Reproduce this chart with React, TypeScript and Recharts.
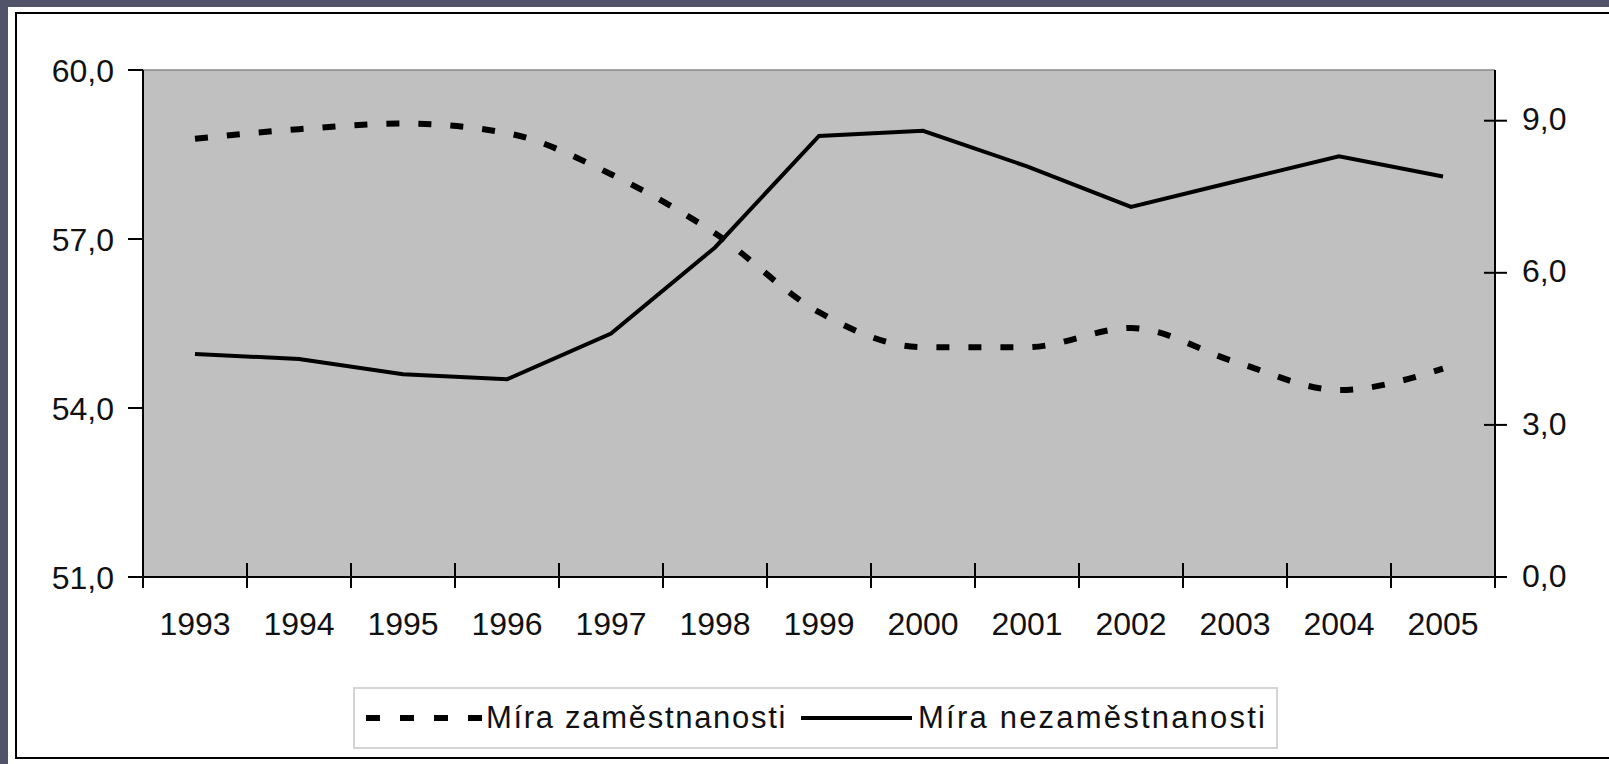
import React from 'react';
import { LineChart, Line, XAxis, YAxis, CartesianGrid, ReferenceLine } from 'recharts';

const years = ['1993', '1994', '1995', '1996', '1997', '1998', '1999', '2000', '2001', '2002', '2003', '2004', '2005'];
const employmentRate = [58.78, 58.95, 59.05, 58.88, 58.15, 57.1, 55.7, 55.08, 55.08, 55.42, 54.82, 54.32, 54.7];
const unemploymentRate = [4.4, 4.3, 4.0, 3.9, 4.8, 6.5, 8.7, 8.8, 8.1, 7.3, 7.8, 8.3, 7.9];
const leftTicks = [51, 54, 57, 60];
const rightTicks = [0, 3, 6, 9];
const seriesNames = ['Míra zaměstnanosti', 'Míra nezaměstnanosti'];

const data = years.map((y, i) => ({ year: y, emp: employmentRate[i], unemp: unemploymentRate[i] }));

const W = 1609;
const H = 764;
const PLOT_LEFT = 143;
const PLOT_RIGHT = 1495;
const PLOT_TOP = 70;
const BAND = (PLOT_RIGHT - PLOT_LEFT) / years.length;
const FONT = '"Liberation Sans", Arial, sans-serif';
const fmt = (v: number) => v.toFixed(1).replace('.', ',');

function XTick(props: any) {
  const { x, y, payload, index } = props;
  const isLast = index === years.length - 1;
  return (
    <g>
      <line x1={x - BAND / 2} x2={x - BAND / 2} y1={y - 14} y2={y + 11} stroke="#000" strokeWidth={2} />
      {isLast && <line x1={x + BAND / 2} x2={x + BAND / 2} y1={y - 14} y2={y + 11} stroke="#000" strokeWidth={2} />}
      <text x={x} y={y + 58} textAnchor="middle" fontSize={32} fill="#111" fontFamily={FONT}>
        {payload.value}
      </text>
    </g>
  );
}

function RightTick(props: any) {
  const { x, y, payload } = props;
  return (
    <g>
      <line x1={x - 11} x2={x + 12} y1={y} y2={y} stroke="#000" strokeWidth={2} />
      <text x={x + 27} y={y} dy="0.3em" textAnchor="start" fontSize={32} fill="#111" fontFamily={FONT}>
        {fmt(payload.value)}
      </text>
    </g>
  );
}

function LeftTick(props: any) {
  const { x, y, payload } = props;
  return (
    <text x={x} y={y} dy="0.36em" textAnchor="end" fontSize={32} fill="#111" fontFamily={FONT}>
      {fmt(payload.value)}
    </text>
  );
}

export default function App() {
  return (
    <div style={{ position: 'relative', width: W, height: H, background: '#515468', overflow: 'hidden' }}>
      <style>{`body{margin:0}`}</style>
      <div style={{ position: 'absolute', left: 8, top: 7, width: W - 8, height: H - 7, background: '#fff' }} />
      <div
        style={{
          position: 'absolute',
          left: 15,
          top: 12,
          width: W,
          height: 747,
          border: '2px solid #000',
          borderRight: 'none',
          boxSizing: 'border-box',
        }}
      />
      <div style={{ position: 'absolute', left: 0, top: 0 }}>
        <LineChart width={W} height={H} data={data} margin={{ top: PLOT_TOP, right: 0, left: 0, bottom: 127 }}>
          <CartesianGrid fill="#c0c0c0" horizontal={false} vertical={false} />
          <ReferenceLine yAxisId="left" y={60} stroke="#888" strokeWidth={1.5} />
          <XAxis
            dataKey="year"
            height={60}
            interval={0}
            padding={{ left: BAND / 2, right: BAND / 2 }}
            tickLine={false}
            tickSize={0}
            tickMargin={0}
            axisLine={{ stroke: '#000', strokeWidth: 2 }}
            tick={<XTick />}
          />
          <YAxis
            yAxisId="left"
            orientation="left"
            width={PLOT_LEFT}
            domain={[51, 60]}
            ticks={leftTicks}
            interval={0}
            tickSize={15}
            tickMargin={14}
            tickLine={{ stroke: '#000', strokeWidth: 2 }}
            axisLine={{ stroke: '#000', strokeWidth: 2 }}
            tick={<LeftTick />}
          />
          <YAxis
            yAxisId="right"
            orientation="right"
            width={W - PLOT_RIGHT}
            domain={[0, 10]}
            ticks={rightTicks}
            interval={0}
            tickSize={0}
            tickMargin={0}
            tickLine={false}
            axisLine={{ stroke: '#000', strokeWidth: 2 }}
            tick={<RightTick />}
          />
          <Line
            yAxisId="left"
            dataKey="emp"
            name={seriesNames[0]}
            type="monotone"
            stroke="#000"
            strokeWidth={6}
            strokeDasharray="13 19"
            dot={false}
            activeDot={false}
            isAnimationActive={false}
          />
          <Line
            yAxisId="right"
            dataKey="unemp"
            name={seriesNames[1]}
            type="linear"
            stroke="#000"
            strokeWidth={4}
            dot={false}
            activeDot={false}
            isAnimationActive={false}
          />
        </LineChart>
      </div>
      <div
        style={{
          position: 'absolute',
          left: 353,
          top: 687,
          width: 925,
          height: 62,
          border: '2px solid #d4d4d4',
          boxSizing: 'border-box',
          display: 'flex',
          alignItems: 'center',
          fontFamily: FONT,
          fontSize: 31,
          color: '#111',
          paddingLeft: 11,
          whiteSpace: 'nowrap',
        }}
      >
        <svg width={116} height={10} style={{ flex: 'none' }}>
          <line x1={0} x2={116} y1={5} y2={5} stroke="#000" strokeWidth={6} strokeDasharray="14 20" />
        </svg>
        <span style={{ marginLeft: 4, letterSpacing: 1.7 }}>{seriesNames[0]}</span>
        <svg width={111} height={10} style={{ flex: 'none', marginLeft: 14 }}>
          <line x1={0} x2={111} y1={5} y2={5} stroke="#000" strokeWidth={4} />
        </svg>
        <span style={{ marginLeft: 6, letterSpacing: 2.2 }}>{seriesNames[1]}</span>
      </div>
    </div>
  );
}
